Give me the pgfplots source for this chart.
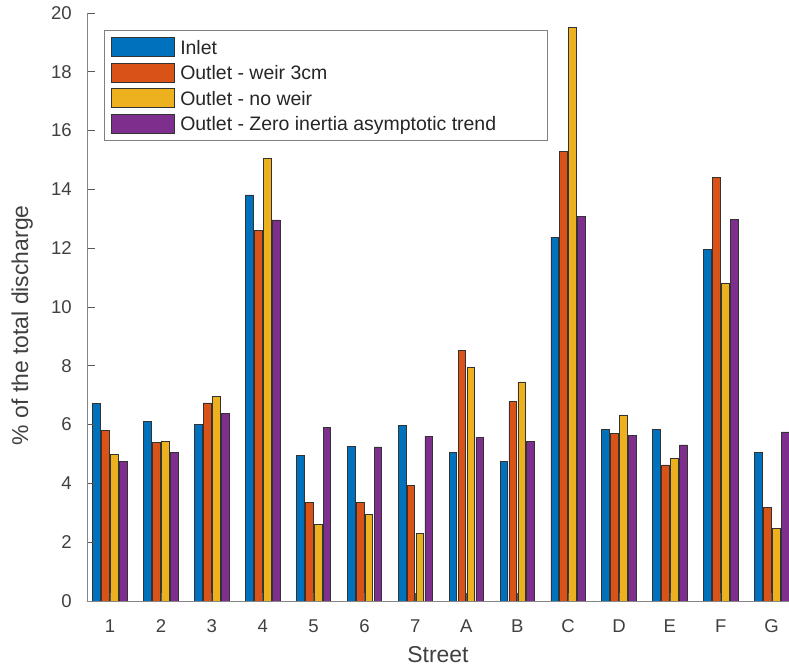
\documentclass[border=0pt]{standalone}
\usepackage{pgfplots}
\usepackage{pgfplotstable}
\pgfplotsset{compat=1.18}
\usepackage{fontspec}
\setmainfont{Liberation Sans}
\definecolor{c1}{rgb}{0,0.447,0.741}
\definecolor{c2}{rgb}{0.85,0.325,0.098}
\definecolor{c3}{rgb}{0.929,0.694,0.125}
\definecolor{c4}{rgb}{0.494,0.184,0.556}
\definecolor{axgray}{rgb}{0.52,0.52,0.52}
\definecolor{txt}{rgb}{0.25,0.25,0.25}

\pgfplotstableread{
x inlet weir noweir zero
1 6.71 5.79 4.98 4.76
2 6.10 5.39 5.44 5.05
3 6.00 6.74 6.97 6.38
4 13.81 12.61 15.04 12.96
5 4.94 3.35 2.61 5.90
6 5.25 3.34 2.94 5.24
7 5.98 3.94 2.30 5.61
8 5.06 8.51 7.94 5.56
9 4.76 6.78 7.45 5.43
10 12.38 15.30 19.51 13.08
11 5.84 5.69 6.33 5.62
12 5.85 4.63 4.86 5.31
13 11.96 14.42 10.82 12.99
14 5.06 3.18 2.47 5.75
}\datatable

\begin{document}
\begin{tikzpicture}
\begin{axis}[
  at={(0,0)}, anchor=south west,
  scale only axis, width=526.5pt, height=441pt,
  xmin=0.548, xmax=14.34, ymin=0, ymax=20,
  clip=false,
  ybar, bar width=0.15,
  axis x line*=bottom, axis y line*=left,
  axis line style={-, draw=axgray, line width=0.7pt},
  every outer x axis line/.append style={-},
  every outer y axis line/.append style={-},
  every inner x axis line/.append style={-},
  every inner y axis line/.append style={-},
  axis on top,
  tick align=inside, major tick length=6pt,
  tick style={draw=black!65, line width=0.6pt},
  xtick={1,...,14}, xticklabels={1,2,3,4,5,6,7,A,B,C,D,E,F,G},
  ytick={0,2,...,20},
  /pgf/number format/assume math mode=true,
  ticklabel style={font=\fontsize{13.9}{16}\selectfont, text=txt},
  yticklabel style={inner sep=0pt, xshift=-11.25pt},
  xticklabel style={inner sep=0pt, yshift=-13.5pt},
  xlabel={Street},
  xlabel style={at={(axis description cs:0.5,-0.1054)}, anchor=base, inner sep=0pt,
    font=\fontsize{17.2}{20}\selectfont, text=txt},
  ylabel={\% of the total discharge},
  ylabel style={at={(axis description cs:-0.084,0.469)}, anchor=base, inner sep=0pt,
    font=\fontsize{17.2}{20}\selectfont, text=txt},
  legend style={at={(axis description cs:0.0242,0.9711)}, anchor=north west,
    draw=black!50, line width=0.7pt, fill=white,
    inner xsep=5.25pt, inner ysep=5.25pt, row sep=4.25pt,
    font=\fontsize{14.6}{17}\selectfont, text=black!85,
    nodes={inner sep=0pt, text height=12.4pt, text depth=1.85pt},
    /tikz/every odd column/.append style={column sep=3.75pt}},
  legend cell align=left,
  legend image code/.code={\draw[#1, line width=0.6pt] (0pt,-7.125pt) rectangle (47.25pt,7.125pt);},
]
\addplot[fill=c1, draw=black!80, line width=0.5pt, bar shift=-0.2625] table[x=x,y=inlet]{\datatable};
\addlegendentry{\makebox[270pt][l]{Inlet}}
\addplot[fill=c2, draw=black!80, line width=0.5pt, bar shift=-0.0875] table[x=x,y=weir]{\datatable};
\addlegendentry{\makebox[270pt][l]{Outlet - weir 3cm}}
\addplot[fill=c3, draw=black!80, line width=0.5pt, bar shift=0.0875] table[x=x,y=noweir]{\datatable};
\addlegendentry{\makebox[270pt][l]{Outlet - no weir}}
\addplot[fill=c4, draw=black!80, line width=0.5pt, bar shift=0.2625] table[x=x,y=zero]{\datatable};
\addlegendentry{\makebox[270pt][l]{Outlet - Zero inertia asymptotic trend}}
\end{axis}
\pgfresetboundingbox
\path[use as bounding box] (-65.25pt,-50.25pt) rectangle (526.5pt,450.75pt);
\end{tikzpicture}
\end{document}
